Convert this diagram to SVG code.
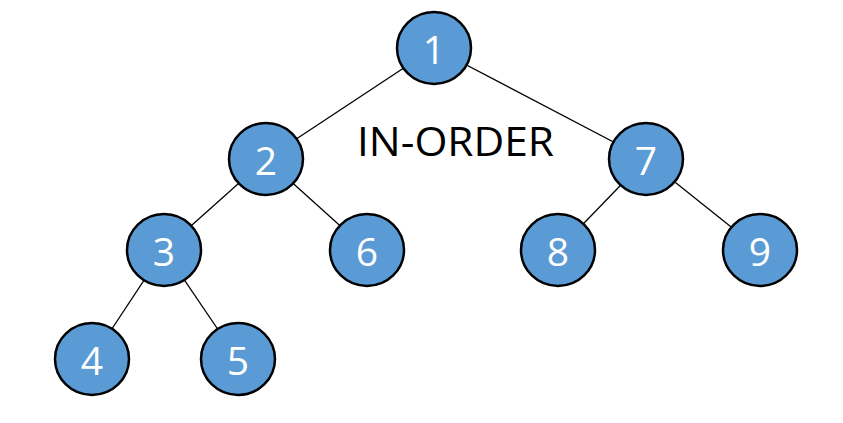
<svg xmlns="http://www.w3.org/2000/svg" width="843" height="423" viewBox="0 0 843 423">
  <style>
    .edge { stroke: #000; stroke-width: 1.3; fill: none; }
    .node ellipse { fill: #5b9bd5; stroke: #000; stroke-width: 2.5; }
    .node text { fill: #fff; font-family: "Open Sans", "Noto Sans", "DejaVu Sans", sans-serif; font-size: 39px; text-anchor: middle; dominant-baseline: central; }
    .title { fill: #000; font-family: "Open Sans", "Noto Sans", "DejaVu Sans", sans-serif; font-size: 40px; }
  </style>
  <rect width="843" height="423" fill="#fff"/>
  <g id="connectors">
    <line class="edge" x1="434" y1="48" x2="266" y2="159"/>
    <line class="edge" x1="434" y1="48" x2="646" y2="159"/>
    <line class="edge" x1="266" y1="159" x2="164" y2="250"/>
    <line class="edge" x1="266" y1="159" x2="367" y2="250"/>
    <line class="edge" x1="646" y1="159" x2="558" y2="250"/>
    <line class="edge" x1="646" y1="159" x2="760" y2="250"/>
    <line class="edge" x1="164" y1="250" x2="92" y2="359"/>
    <line class="edge" x1="164" y1="250" x2="238" y2="359"/>
  </g>
  <g id="node-1" class="node"><ellipse cx="434" cy="48" rx="37" ry="36"/><text x="434" y="48">1</text></g>
  <g id="node-2" class="node"><ellipse cx="266" cy="159" rx="37" ry="36"/><text x="266" y="159">2</text></g>
  <g id="node-7" class="node"><ellipse cx="646" cy="159" rx="37" ry="36"/><text x="646" y="159">7</text></g>
  <g id="node-3" class="node"><ellipse cx="164" cy="250" rx="37" ry="36"/><text x="164" y="250">3</text></g>
  <g id="node-6" class="node"><ellipse cx="367" cy="250" rx="37" ry="36"/><text x="367" y="250">6</text></g>
  <g id="node-8" class="node"><ellipse cx="558" cy="250" rx="37" ry="36"/><text x="558" y="250">8</text></g>
  <g id="node-9" class="node"><ellipse cx="760" cy="250" rx="37" ry="36"/><text x="760" y="250">9</text></g>
  <g id="node-4" class="node"><ellipse cx="92" cy="359" rx="37" ry="36"/><text x="92" y="359">4</text></g>
  <g id="node-5" class="node"><ellipse cx="238" cy="359" rx="37" ry="36"/><text x="238" y="359">5</text></g>
  <text id="label" class="title" x="357" y="156" textLength="197" lengthAdjust="spacingAndGlyphs">IN-ORDER</text>
</svg>
